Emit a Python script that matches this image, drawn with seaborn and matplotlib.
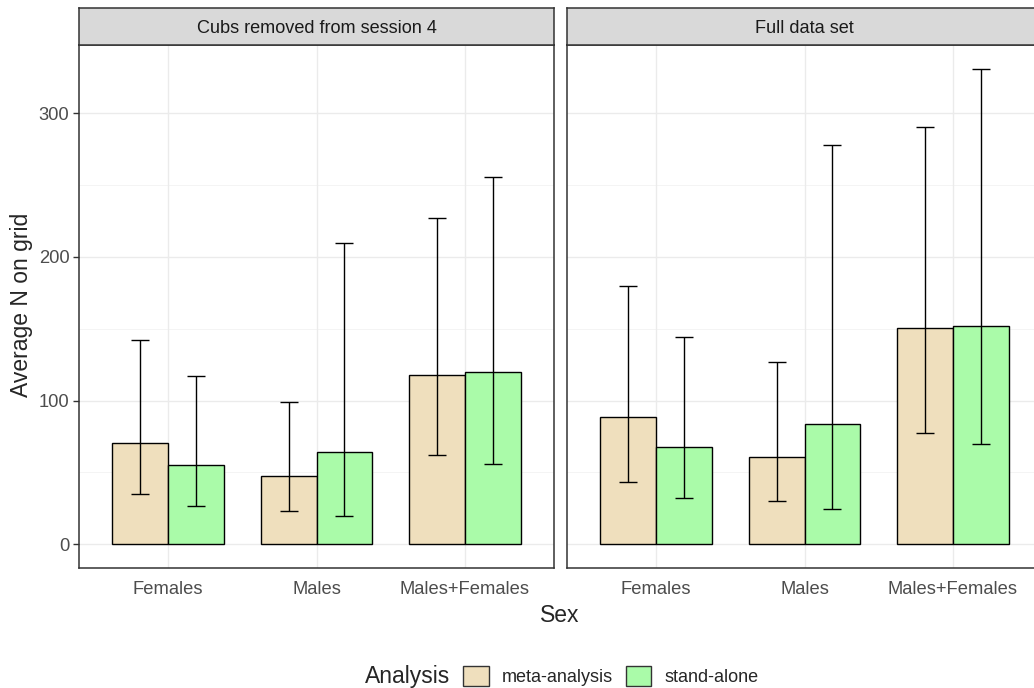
import matplotlib
matplotlib.use("Agg")
import matplotlib.pyplot as plt
import seaborn as sns
import pandas as pd
import numpy as np

# ---- data -------------------------------------------------------------
sexes = ["Females", "Males", "Males+Females"]
analyses = ["meta-analysis", "stand-alone"]
panels = ["Cubs removed from session 4", "Full data set"]

# Cubs removed from session 4
cubs_meta = [70.5, 47.5, 118.0]
cubs_meta_lo = [35.0, 23.0, 62.0]
cubs_meta_hi = [142.0, 99.0, 227.0]
cubs_stand = [55.0, 64.0, 120.0]
cubs_stand_lo = [26.5, 19.5, 56.0]
cubs_stand_hi = [117.0, 210.0, 256.0]

# Full data set
full_meta = [88.5, 61.0, 150.5]
full_meta_lo = [43.0, 30.0, 77.5]
full_meta_hi = [180.0, 127.0, 290.5]
full_stand = [68.0, 83.5, 152.0]
full_stand_lo = [32.5, 24.5, 70.0]
full_stand_hi = [144.5, 278.0, 331.0]

y_ticks = [0, 100, 200, 300]

colors = {"meta-analysis": "#EFDFBD", "stand-alone": "#AAFBA9"}

rows = []
for panel, series in zip(panels, [
    [(cubs_meta, cubs_meta_lo, cubs_meta_hi), (cubs_stand, cubs_stand_lo, cubs_stand_hi)],
    [(full_meta, full_meta_lo, full_meta_hi), (full_stand, full_stand_lo, full_stand_hi)],
]):
    for analysis, (vals, lo, hi) in zip(analyses, series):
        for s, v, l, h in zip(sexes, vals, lo, hi):
            rows.append(dict(Panel=panel, Analysis=analysis, Sex=s, N=v, lo=l, hi=h))
df = pd.DataFrame(rows)

# ---- style ------------------------------------------------------------
sns.set_style("white")
plt.rcParams["font.family"] = ["Liberation Sans", "DejaVu Sans"]

W, H = 1034, 688
fig = plt.figure(figsize=(W / 100, H / 100), dpi=100)

def px_axes(x0, y0, x1, y1):
    return fig.add_axes([x0 / W, 1 - y1 / H, (x1 - x0) / W, (y1 - y0) / H])

panel_boxes = [(79, 45, 554, 568), (567, 45, 1042, 568)]
strip_top = 8

ymax_data = df["hi"].max()
pad = 0.05 * ymax_data
ylim = (-pad, ymax_data + pad)

handles = labels = None
for i, (panel, box) in enumerate(zip(panels, panel_boxes)):
    ax = px_axes(*box)
    sub = df[df["Panel"] == panel]

    # grid: major + minor lines in light grey
    for yv in y_ticks:
        ax.axhline(yv, color="#EBEBEB", lw=1.0, zorder=0)
    for yv in [50, 150, 250]:
        ax.axhline(yv, color="#F2F2F2", lw=0.6, zorder=0)
    for xv in range(len(sexes)):
        ax.axvline(xv, color="#EBEBEB", lw=1.0, zorder=0)

    sns.barplot(data=sub, x="Sex", y="N", hue="Analysis", order=sexes,
                hue_order=analyses, palette=colors, width=0.75, gap=0,
                edgecolor="black", linewidth=1.0, errorbar=None,
                saturation=1, ax=ax, zorder=2)

    # error bars centred on each drawn bar
    for analysis, cont in zip(analyses, ax.containers):
        part = sub[sub["Analysis"] == analysis].set_index("Sex").loc[sexes]
        xs = [b.get_x() + b.get_width() / 2 for b in cont]
        ys = part["N"].values
        yerr = np.vstack([ys - part["lo"].values, part["hi"].values - ys])
        ax.errorbar(xs, ys, yerr=yerr, fmt="none", ecolor="black",
                    elinewidth=1.0, capsize=6.5, capthick=1.0, zorder=3)

    if handles is None:
        handles, labels = ax.get_legend_handles_labels()
    if ax.get_legend() is not None:
        ax.get_legend().remove()

    ax.set_xlim(-0.6, 2.6)
    ax.set_ylim(*ylim)
    ax.set_yticks(y_ticks)
    ax.set_xlabel("")
    ax.set_ylabel("")
    for sp in ax.spines.values():
        sp.set_color("#333333")
        sp.set_linewidth(1.1)
    ax.tick_params(axis="x", length=4, width=1.0, color="#333333",
                   labelsize=13.2, labelcolor="#4D4D4D", pad=5)
    if i == 0:
        ax.tick_params(axis="y", length=4, width=1.0, color="#333333",
                       labelsize=13.2, labelcolor="#4D4D4D", pad=3, left=True)
    else:
        ax.tick_params(axis="y", left=False, labelleft=False)

    # facet strip
    sax = px_axes(box[0], strip_top, box[2], box[1])
    sax.set_facecolor("#D9D9D9")
    sax.set_xticks([])
    sax.set_yticks([])
    for sp in sax.spines.values():
        sp.set_color("#333333")
        sp.set_linewidth(1.1)
    sax.text(0.5, 0.44, panel, ha="center", va="center", fontsize=13.1,
             color="#1A1A1A", transform=sax.transAxes)

# axis titles
fig.text(560 / W, 1 - 615 / H, "Sex", ha="center", va="center", fontsize=16.5)
fig.text(22 / W, 1 - 305 / H, "Average N on grid", ha="center", va="center",
         rotation=90, fontsize=16.5)

# legend at the bottom with title on the left
fig.text(365 / W, 1 - 677 / H, "Analysis", ha="left", va="center", fontsize=16.5)
leg = fig.legend(handles, labels, loc="center left",
                 bbox_to_anchor=(449 / W, 1 - 676 / H), ncol=2, frameon=False,
                 fontsize=13.0, handlelength=1.4, handleheight=1.4,
                 handletextpad=0.75, columnspacing=0.7, borderpad=0.3)
for h in leg.legend_handles:
    h.set_edgecolor("#333333")
    h.set_linewidth(1.0)

fig.savefig("out.png", dpi=100)
